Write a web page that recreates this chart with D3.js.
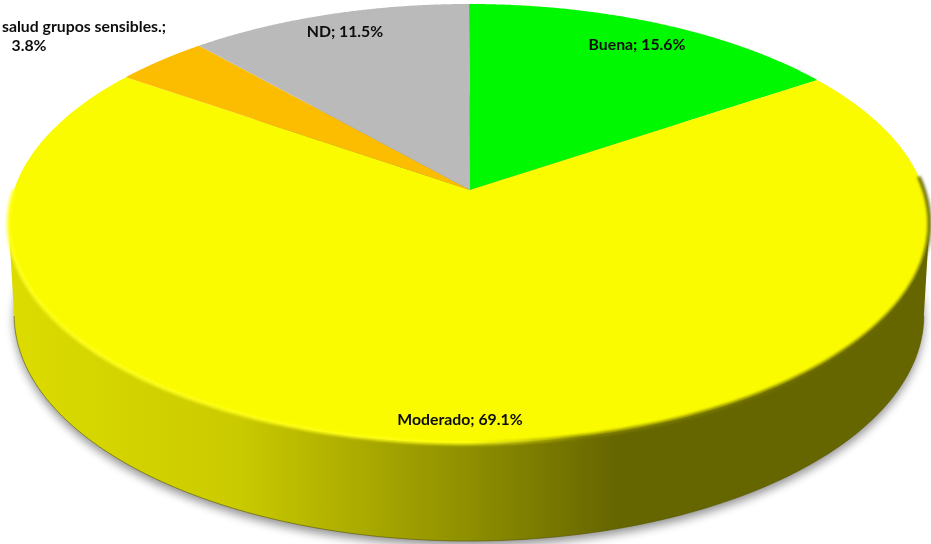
<!DOCTYPE html>
<html>
<head>
<meta charset="utf-8">
<script src="https://cdn.jsdelivr.net/npm/d3@7"></script>
<style>
  html, body { margin: 0; padding: 0; background: #fff; overflow: hidden; }
  text { font-family: Lato, "Open Sans", sans-serif; font-weight: 700; fill: #111; }
</style>
</head>
<body>
<script>
const categories = ["Buena", "Moderado", "salud grupos sensibles.", "ND"];
const values = [15.6, 69.1, 3.8, 11.5];
const colors = ["#00f900", "#fbfb00", "#fcbc00", "#bababa"];
const wallStops = [[0, "#dcdc00"], [0.25, "#caca00"], [0.5, "#8f8f00"], [0.66, "#666600"], [1, "#666600"]];

document.addEventListener("DOMContentLoaded", () => {
    const width = 931;
    const height = 544;

    const svg = d3.select("body").append("svg")
        .attr("width", width)
        .attr("height", height);

    const defs = svg.append("defs");
    defs.append("filter").attr("id", "soft")
        .attr("x", "-5%").attr("y", "-5%").attr("width", "110%").attr("height", "110%")
        .append("feGaussianBlur").attr("stdDeviation", 5);
    defs.append("filter").attr("id", "edge")
        .attr("x", "-5%").attr("y", "-5%").attr("width", "110%").attr("height", "110%")
        .append("feGaussianBlur").attr("stdDeviation", 1.6);
    defs.append("filter").attr("id", "txt")
        .append("feGaussianBlur").attr("stdDeviation", 0.3);

    const wallGrad = defs.append("linearGradient").attr("id", "wall")
        .attr("gradientUnits", "userSpaceOnUse")
        .attr("x1", 10).attr("x2", 925).attr("y1", 0).attr("y2", 0);
    wallGrad.selectAll("stop").data(wallStops).enter().append("stop")
        .attr("offset", d => d[0])
        .attr("stop-color", d => d[1]);

    // perspective disc, angle 0 = top, clockwise
    const disc = (cx, cy, a, b, k) => t => {
        const u = Math.sin(t), v = -Math.cos(t), w = 1 - k * v;
        return [cx + a * u / w, cy + b * v / w];
    };
    const topDisc = disc(469, 190, 455, 214.4, 0.1526);
    const lowDisc = disc(469, 280.6, 449.5, 220.7, 0.1526);

    const pie = d3.pie().sort(null).value(d => d)(values);
    const line = d3.line();
    const rim = (f, a0, a1) => d3.range(0, 181).map(i => f(a0 + (a1 - a0) * i / 180));
    const wedge = (f, d) => line([[470, 190], ...rim(f, d.startAngle, d.endAngle)]) + "Z";

    // the wall shows from the right tip round the front to the left tip
    const tipR = Math.PI * 0.55, tipL = Math.PI * 1.45;
    const wallPath = line([...rim(topDisc, tipR, tipL), ...rim(lowDisc, tipL, tipR)]) + "Z";

    const shadowPath = line(rim(lowDisc, 0, Math.PI * 2)) + "Z";
    svg.append("path").attr("d", shadowPath)
        .attr("transform", "translate(0,5)")
        .attr("fill", "#000").attr("opacity", 0.42)
        .attr("filter", "url(#soft)");

    svg.append("path").attr("d", wallPath).attr("fill", "url(#wall)");
    svg.append("path").attr("d", line(rim(lowDisc, tipL, tipR)))
        .attr("fill", "none").attr("stroke", "#555500").attr("stroke-width", 1).attr("opacity", 0.6);

    svg.selectAll(".slice").data(pie).enter().append("path")
        .attr("class", "slice")
        .attr("d", d => wedge(topDisc, d))
        .attr("fill", (d, i) => colors[i]);

    // bevel on the front rim: bright on the left, dark on the right
    const bevelGrad = defs.append("linearGradient").attr("id", "bevel")
        .attr("gradientUnits", "userSpaceOnUse")
        .attr("x1", 10).attr("x2", 925).attr("y1", 0).attr("y2", 0);
    bevelGrad.append("stop").attr("offset", 0).attr("stop-color", "#ffff20");
    bevelGrad.append("stop").attr("offset", 0.5).attr("stop-color", "#ffff10");
    bevelGrad.append("stop").attr("offset", 0.62).attr("stop-color", "#8a8a00");
    bevelGrad.append("stop").attr("offset", 1).attr("stop-color", "#666600");
    svg.append("path").attr("d", line(rim(topDisc, Math.PI * 0.48, Math.PI * 1.5)))
        .attr("fill", "none").attr("stroke", "url(#bevel)").attr("stroke-width", 3.5)
        .attr("filter", "url(#edge)");

    // labels
    const labelPos = [[637, 45], [460, 420], [84, 27], [345, 32]];
    const fmt = v => v.toFixed(1) + "%";
    const labels = svg.append("g").attr("font-size", 15.8).attr("text-anchor", "middle")
        .attr("filter", "url(#txt)");
    values.forEach((v, i) => {
        if (i === 2) return;
        labels.append("text")
            .attr("x", labelPos[i][0]).attr("y", labelPos[i][1]).attr("dy", 5)
            .text(categories[i] + "; " + fmt(v));
    });
    labels.append("text")
        .attr("x", labelPos[2][0]).attr("y", labelPos[2][1]).attr("dy", 5)
        .text(categories[2] + ";");
    labels.append("text")
        .attr("x", 29).attr("y", 46).attr("dy", 5)
        .text(fmt(values[2]));
});
</script>
</body>
</html>
